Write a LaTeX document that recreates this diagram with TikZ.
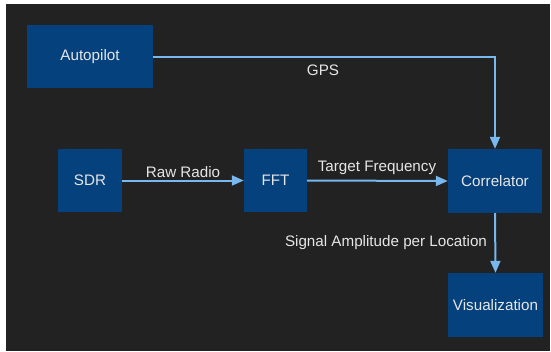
\documentclass[tikz,border=0pt]{standalone}
\usepackage{fontspec}
\setmainfont{Liberation Sans}
\usetikzlibrary{arrows.meta}
\definecolor{canvas}{HTML}{222222}
\definecolor{boxfill}{HTML}{05417D}
\definecolor{wire}{HTML}{78B8EE}
\definecolor{ink}{HTML}{E6E6E6}
\tikzset{
  block/.style={fill=boxfill, draw=none, inner sep=0pt, font=\fontsize{15.2}{18}\selectfont, text=ink},
  flow/.style={draw=wire, line width=2pt, -{Triangle[length=12pt,width=10pt]}},
  tag/.style={font=\fontsize{15.2}{18}\selectfont, text=ink, inner sep=0pt}
}
\begin{document}
\begin{tikzpicture}[x=1pt,y=-1pt]
  \useasboundingbox (0,0) rectangle (551,351);
  \fill[white] (0,0) rectangle (551,351);
  \fill[canvas] (6,4) rectangle (550,351);

  \node[block, minimum width=126pt, minimum height=63pt] (auto) at (90,56.5) {Autopilot};
  \node[block, minimum width=64pt, minimum height=63pt] (sdr) at (90,180.5) {SDR};
  \node[block, minimum width=63pt, minimum height=63pt] (fft) at (275.5,180.5) {FFT};
  \node[block, minimum width=94pt, minimum height=64pt] (corr) at (495,181) {Correlator};
  \node[block, minimum width=95pt, minimum height=64pt] (vis) at (495.5,305) {Visualization};

  \draw[flow] (auto.east) -| (corr.north);
  \draw[flow] (sdr.east) -- (fft.west);
  \draw[flow] (fft.east) -- (corr.west);
  \draw[flow] (corr.south) -- (vis.north);

  \node[tag] (gps) at (323,70) {GPS};
  \node[tag] (raw) at (183,172) {Raw Radio};
  \node[tag] (freq) at (377,168) {Target Frequency};
  \node[tag] (amp) at (386,243) {Signal Amplitude per Location};
\end{tikzpicture}
\end{document}
